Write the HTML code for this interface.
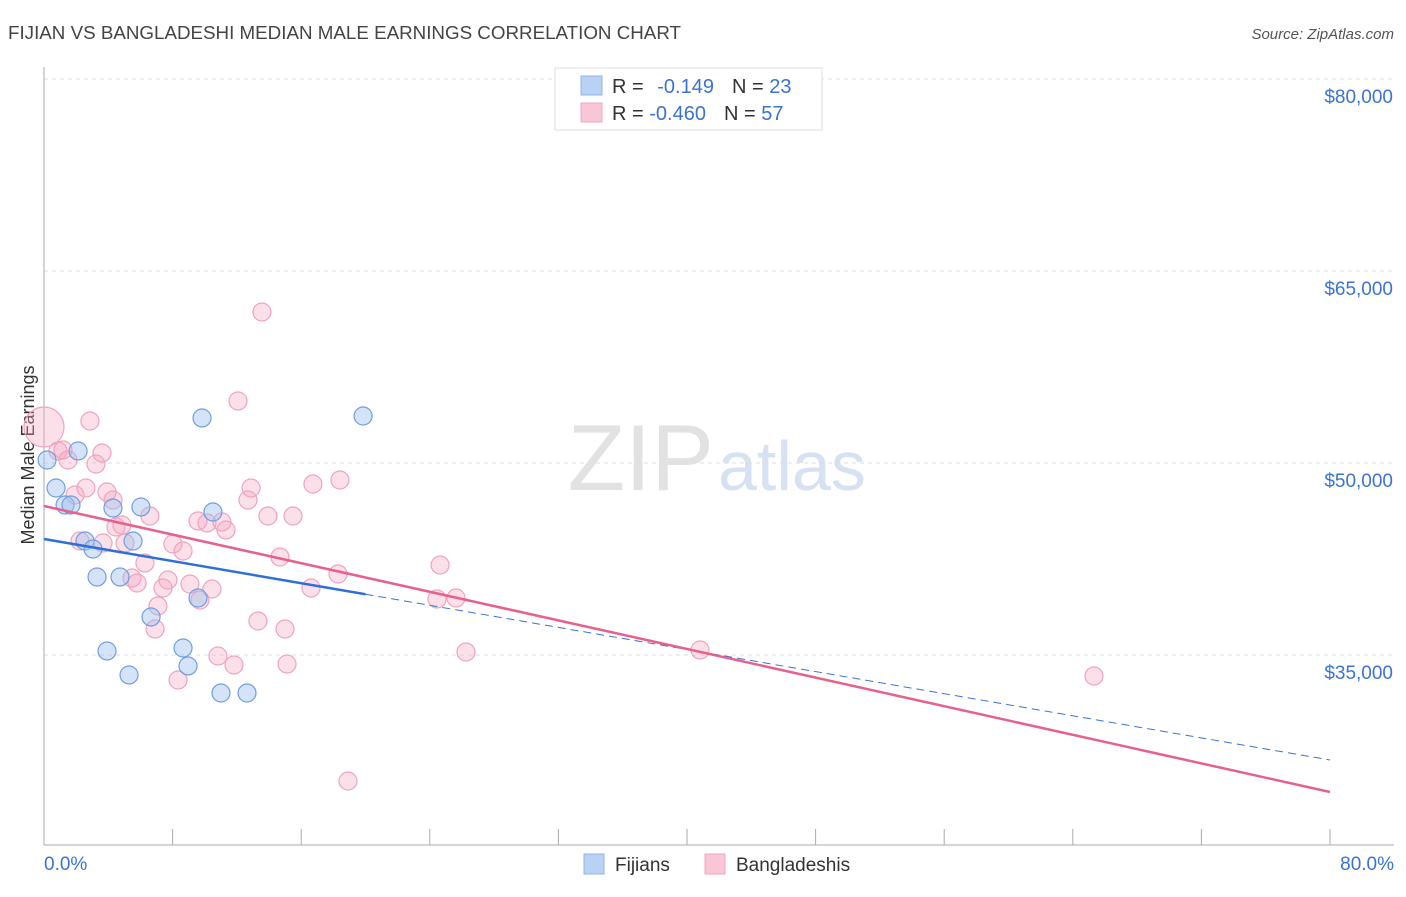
<!DOCTYPE html>
<html><head><meta charset="utf-8"><style>
body{margin:0;background:#fff;font-family:"Liberation Sans",sans-serif}
svg text{font-family:"Liberation Sans",sans-serif}
</style></head><body>
<svg id="c" width="1406" height="892">
<text x="8" y="39" font-size="18" fill="#444" textLength="673" lengthAdjust="spacingAndGlyphs">FIJIAN VS BANGLADESHI MEDIAN MALE EARNINGS CORRELATION CHART</text>
<text x="1394" y="39" font-size="15" fill="#555" font-style="italic" text-anchor="end">Source: ZipAtlas.com</text>
<text x="714" y="490" font-size="94" fill="#e2e2e2" text-anchor="end" font-family="Liberation Serif">ZIP</text>
<text x="718" y="490" font-size="70" fill="#d6e2f3">atlas</text>
<text transform="translate(34,455) rotate(-90)" font-size="18" fill="#333" text-anchor="middle">Median Male Earnings</text>
<g id="grid"></g><g id="marks"></g>
<g>
<rect x="555" y="68" width="267" height="62" fill="#fff" stroke="#ddd"/>
<rect x="581" y="76" width="21" height="19" fill="#b9d2f3" stroke="#8fb3e8"/>
<rect x="581" y="103" width="21" height="19" fill="#f9c6d6" stroke="#f0a7bf"/>
<text x="612" y="93" font-size="20" fill="#333">R = <tspan fill="#3a73d0" dx="8">-0.149</tspan><tspan fill="#333" dx="18">N = </tspan><tspan fill="#3a73d0">23</tspan></text>
<text x="612" y="120" font-size="20" fill="#333">R = <tspan fill="#3a73d0">-0.460</tspan><tspan fill="#333" dx="18">N = </tspan><tspan fill="#3a73d0">57</tspan></text>
</g>
<g>
<rect x="584" y="854" width="20" height="20" fill="#b9d2f3" stroke="#8fb3e8"/>
<text x="615" y="871" font-size="19" fill="#333">Fijians</text>
<rect x="705" y="854" width="20" height="20" fill="#f9c6d6" stroke="#f0a7bf"/>
<text x="736" y="871" font-size="19" fill="#333">Bangladeshis</text>
</g>
</svg>
<script>
const yTicks=[35000,50000,65000,80000];
const yTickLabels=["$35,000","$50,000","$65,000","$80,000"];
const xTickLabels=["0.0%","80.0%"];
const fijX=[0.19,0.75,1.31,1.68,2.12,2.55,3.05,3.30,3.92,4.29,4.73,5.29,5.54,6.03,6.66,8.65,8.96,9.58,9.83,10.51,11.01,12.63,19.85];
const fijY=[50234,48047,46719,46719,50938,43906,43281,41094,35313,46484,41094,33438,43906,46563,37969,35547,34141,39453,53516,46172,32031,32031,53672];
const banX=[0,0.87,1.18,1.49,1.93,2.24,2.61,2.86,3.23,3.61,3.67,3.92,4.29,4.48,4.85,5.04,5.47,5.79,6.28,6.59,6.91,7.09,7.40,7.71,8.02,8.34,8.65,9.08,9.58,9.70,10.14,10.45,10.82,11.07,11.32,11.82,12.07,12.69,12.88,13.31,13.56,13.93,14.68,14.99,15.12,15.49,16.61,16.73,18.29,18.41,18.91,24.45,24.64,25.63,26.25,40.81,65.32];
const banY=[52813,50938,51016,50234,47500,43906,48047,53281,49922,50781,43750,47734,47109,45000,45156,43750,41016,40625,42188,45859,37031,38828,40234,40859,43672,33047,43125,40547,45469,39297,45313,40156,34922,45391,44766,34219,54844,47109,48047,37656,61797,45859,42656,37031,34297,45859,40234,48359,41328,48672,25156,39375,42031,39453,35234,35391,33359];
const fijTrend=[44063,26797];
const banTrend=[46641,24297];
const NS="http://www.w3.org/2000/svg";
const X=v=>44+v/80*1286;
const Y=v=>79+(80000-v)/1000*12.8;
function mk(t,a,p){const e=document.createElementNS(NS,t);for(const k in a)e.setAttribute(k,a[k]);p.appendChild(e);return e;}
const g=document.getElementById('grid'),m=document.getElementById('marks');
yTicks.forEach((t,i)=>{
 const l=mk('line',{x1:44,x2:1394,y1:Y(t),y2:Y(t),stroke:'#ddd','stroke-dasharray':'4,4'},g);
 
 
 const tx=mk('text',{x:1393,y:Y(t)+24,'font-size':19,fill:'#3a73d0','text-anchor':'end'},g);
 tx.textContent=yTickLabels[i];
 
 
});
const ax=mk('line',{x1:44,x2:44,y1:67,y2:845,stroke:'#aaa'},g);


const bx=mk('line',{x1:44,x2:1394,y1:845,y2:845,stroke:'#aaa'},g);


for(let i=0;i<=10;i++){const t=mk('line',{x1:X(i*8),x2:X(i*8),y1:829,y2:845,stroke:'#aaa'},g);
 
 }
[[0,'start',44],[80,'end',1394]].forEach((d,i)=>{const t=mk('text',{x:d[2],y:870,'font-size':19,fill:'#3a73d0','text-anchor':d[1]},g);t.textContent=xTickLabels[i];
 
 });
banX.forEach((x,i)=>{const c=mk('circle',{cx:X(x),cy:Y(banY[i]),r:i==0?20:9,fill:'rgba(244,165,192,0.35)',stroke:'#f0a3bd','stroke-width':1.2},m);
 
 });
fijX.forEach((x,i)=>{const c=mk('circle',{cx:X(x),cy:Y(fijY[i]),r:9,fill:'rgba(160,192,238,0.45)',stroke:'#6f9ee3','stroke-width':1.2},m);
 
 });
const fy=x=>fijTrend[0]+(fijTrend[1]-fijTrend[0])*x/80;
let l=mk('line',{x1:X(20),y1:Y(fy(20)),x2:X(80),y2:Y(fy(80)),stroke:'#3a73d0','stroke-width':1,'stroke-dasharray':'8,5'},m);


l=mk('line',{x1:X(0),y1:Y(fy(0)),x2:X(20),y2:Y(fy(20)),stroke:'#2f6fd6','stroke-width':2.5},m);


l=mk('line',{x1:X(0),y1:Y(banTrend[0]),x2:X(80),y2:Y(banTrend[1]),stroke:'#e8608c','stroke-width':2.5},m);


</script>
</body></html>
